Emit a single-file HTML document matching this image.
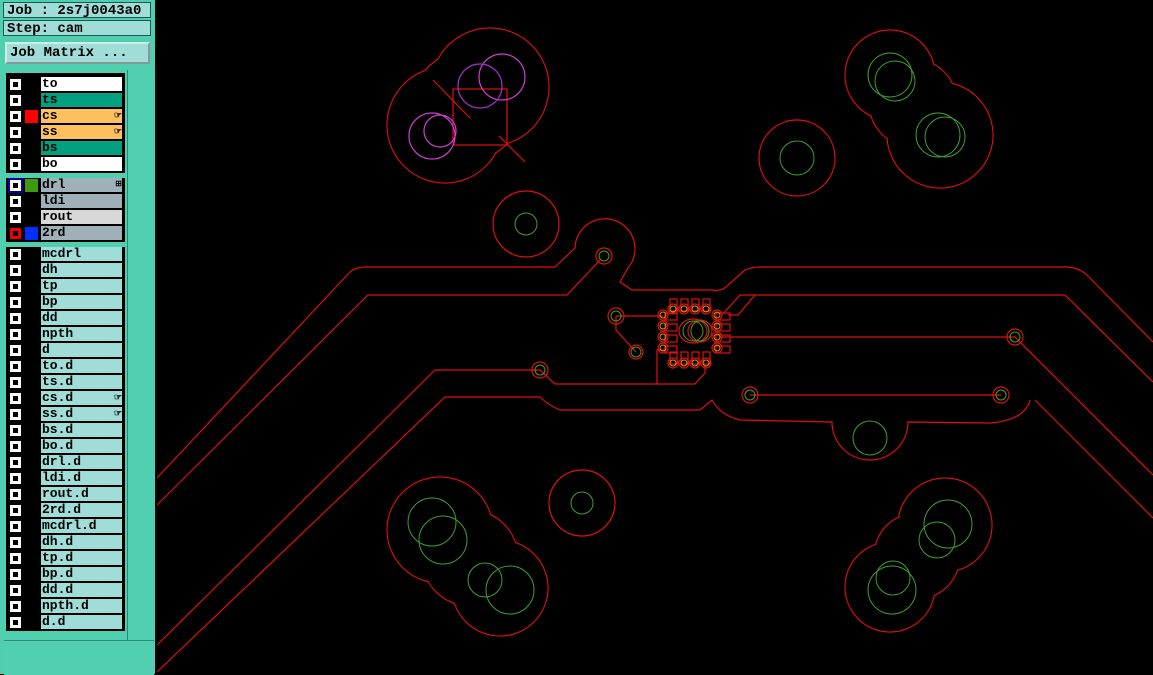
<!DOCTYPE html>
<html><head><meta charset="utf-8"><style>
body{margin:0;width:1153px;height:674px;overflow:hidden;background:#000;font-family:"Liberation Mono",monospace;}
#panel{position:absolute;left:0;top:0;width:155px;height:674px;background:#4fcfae;}
.hdr{position:absolute;left:3px;width:148px;height:16px;background:#a0dcd8;border:1px solid #1a5a50;font-size:14px;font-weight:bold;line-height:16px;padding-left:3px;box-sizing:border-box;color:#000}
.btn{position:absolute;left:5px;top:42px;width:145px;height:22px;background:#a0dcd8;border:2px outset #cfeeea;box-sizing:border-box;font-size:14px;font-weight:bold;line-height:18px;padding-left:3px}
#list{position:absolute;left:6px;top:73px;width:119px;height:558px;background:#000;}
#strip{position:absolute;left:127px;top:70px;width:26px;height:574px;background:#50d0b0;border-left:1px solid #2a8a78}
.row{position:absolute;left:0;width:119px;height:15px}
.cb{position:absolute;left:4px;top:2px;width:11px;height:11px;background:#fff;}
.cb:after{content:"";position:absolute;left:3px;top:3px;width:5px;height:5px;background:#000}
.sw{position:absolute;left:19px;top:1px;width:13px;height:13px}
.nm{position:absolute;left:35px;top:0;width:81px;height:14px;font-size:13px;font-weight:bold;line-height:14px;padding-left:1px;box-sizing:border-box}
.sep{position:absolute;left:0;width:119px;height:5px;background:#4fcfae}
</style></head><body>
<div id="panel">
<div class="hdr" style="top:2px">Job : 2s7j0043a0</div>
<div class="hdr" style="top:20px">Step: cam</div>
<div class="btn">Job Matrix ...</div>
<div id="strip"></div>
<div style="position:absolute;left:4px;top:640px;width:150px;height:34px;background:#50d0b0;border-top:1px solid #2a8a78"></div>
<div id="list">
<div class="row" style="top:4px"><div class="cb"></div><div class="nm" style="background:#fff">to</div></div>
<div class="row" style="top:20px"><div class="cb"></div><div class="nm" style="background:#00a080">ts</div></div>
<div class="row" style="top:36px"><div class="cb"></div><div class="sw" style="background:#f00"></div><div class="nm" style="background:#ffc060">cs<span style="float:right;font-size:9px">&#9758;</span></div></div>
<div class="row" style="top:52px"><div class="cb"></div><div class="nm" style="background:#ffc060">ss<span style="float:right;font-size:9px">&#9758;</span></div></div>
<div class="row" style="top:68px"><div class="cb"></div><div class="nm" style="background:#00a080">bs</div></div>
<div class="row" style="top:84px"><div class="cb"></div><div class="nm" style="background:#fff">bo</div></div>
<div class="sep" style="top:100px"></div>
<div class="row" style="top:105px"><div class="cb" style="background:#fff;outline:2px solid #00a"></div><div class="sw" style="background:#3a9a10"></div><div class="nm" style="background:#a0b0b8">drl<span style="float:right;font-size:8px">&#8862;</span></div></div>
<div class="row" style="top:121px"><div class="cb"></div><div class="nm" style="background:#a0b0b8">ldi</div></div>
<div class="row" style="top:137px"><div class="cb"></div><div class="nm" style="background:#d8d8d8">rout</div></div>
<div class="row" style="top:153px"><div class="cb" style="background:#e00"></div><div class="sw" style="background:#0030ff"></div><div class="nm" style="background:#a0b0b8">2rd</div></div>
<div class="sep" style="top:169px"></div>
</div>
</div>
<script>
var names=["mcdrl","dh","tp","bp","dd","npth","d","to.d","ts.d","cs.d","ss.d","bs.d","bo.d","drl.d","ldi.d","rout.d","2rd.d","mcdrl.d","dh.d","tp.d","bp.d","dd.d","npth.d","d.d"];
var L=document.getElementById('list'),h='';
names.forEach(function(n,i){var hand=(n=="cs.d"||n=="ss.d")?'<span style="float:right;font-size:9px">&#9758;</span>':'';
h+='<div class="row" style="top:'+(174+i*16)+'px"><div class="cb"></div><div class="nm" style="background:#a0dcd8">'+n+hand+'</div></div>';});
L.insertAdjacentHTML('beforeend',h);
</script>
<svg style="position:absolute;left:0;top:0" width="1153" height="674" viewBox="0 0 1153 674">
<g fill="none" stroke="#e01010" stroke-width="1.2">
<circle cx="490" cy="87" r="59"/><circle cx="445" cy="125" r="58"/><circle cx="467" cy="106" r="55"/>
<circle cx="890" cy="75" r="45"/><circle cx="940" cy="135" r="53"/><circle cx="913" cy="103" r="44"/>
<circle cx="440" cy="530" r="53"/><circle cx="500" cy="588" r="48"/><circle cx="470" cy="558" r="48"/>
<circle cx="945" cy="525" r="47"/><circle cx="890" cy="587" r="45"/><circle cx="917" cy="556" r="43"/>
</g>
<g fill="#000">
<circle cx="490" cy="87" r="58.4"/><circle cx="445" cy="125" r="57.4"/><circle cx="467" cy="106" r="54.4"/>
<circle cx="890" cy="75" r="44.4"/><circle cx="940" cy="135" r="52.4"/><circle cx="913" cy="103" r="43.4"/>
<circle cx="440" cy="530" r="52.4"/><circle cx="500" cy="588" r="47.4"/><circle cx="470" cy="558" r="47.4"/>
<circle cx="945" cy="525" r="46.4"/><circle cx="890" cy="587" r="44.4"/><circle cx="917" cy="556" r="42.4"/>
</g>
<g fill="none" stroke="#e01010" stroke-width="1.2">
<circle cx="797" cy="158" r="38"/><circle cx="526" cy="224" r="33"/><circle cx="582" cy="503" r="33"/>
<rect x="453" y="89" width="54" height="56"/>
<line x1="433" y1="80" x2="470" y2="118"/><line x1="499" y1="136" x2="525" y2="162"/>
<path d="M157,478 L350,272 Q356,267 365,267 L555,267 L575,248 A30,30 0 1 1 628,268 L620,282 L632,290 L712,290 Q722,292 728,285 L745,270 Q752,267 760,267 L1068,267 Q1080,268 1088,276 L1153,342"/>
<path d="M157,505 L368,295 L567,295 L600,260"/>
<path d="M723,314 L740,295 L1065,295 L1153,382"/>
<path d="M1015,337 L1153,475"/>
<path d="M1035,400 L1153,518"/>
<path d="M157,645 L435,370 L540,370"/>
<path d="M157,672 L445,397 L540,397 Q548,405 560,410 L700,410 L712,400 Q720,415 740,420 L832,422 A38,38 0 0 0 908,422 L990,423 Q1025,420 1030,400"/>
<path d="M540,370 L555,384 L657,384 L657,350 L665,350"/>
<path d="M657,384 L695,384 L705,373 L705,365"/>
<line x1="720" y1="337" x2="1015" y2="337"/>
<line x1="750" y1="395" x2="1001" y2="395"/>
<path d="M616,316 L663,316"/><path d="M616,316 L616,330 L636,352"/>
<path d="M728,315 L738,315 L755,295"/>
<circle cx="604" cy="256" r="8"/><circle cx="616" cy="316" r="8"/><circle cx="636" cy="352" r="7"/>
<circle cx="540" cy="370" r="8"/><circle cx="750" cy="395" r="8"/><circle cx="1001" cy="395" r="8"/><circle cx="1015" cy="337" r="8"/>
<rect x="670" y="299" width="7" height="12"/><rect x="681" y="299" width="7" height="12"/><rect x="692" y="299" width="7" height="12"/><rect x="703" y="299" width="7" height="12"/>
<rect x="670" y="352" width="7" height="12"/><rect x="681" y="352" width="7" height="12"/><rect x="692" y="352" width="7" height="12"/><rect x="703" y="352" width="7" height="12"/>
<rect x="665" y="313" width="12" height="7"/><rect x="665" y="324" width="12" height="7"/><rect x="665" y="335" width="12" height="7"/><rect x="665" y="346" width="12" height="7"/>
<rect x="716" y="313" width="14" height="7"/><rect x="716" y="324" width="14" height="7"/><rect x="716" y="335" width="14" height="7"/><rect x="716" y="346" width="14" height="7"/>
<circle cx="673" cy="309" r="5"/><circle cx="684" cy="309" r="5"/><circle cx="695" cy="309" r="5"/><circle cx="706" cy="309" r="5"/>
<circle cx="673" cy="363" r="5"/><circle cx="684" cy="363" r="5"/><circle cx="695" cy="363" r="5"/><circle cx="706" cy="363" r="5"/>
<circle cx="663" cy="315" r="5"/><circle cx="663" cy="326" r="5"/><circle cx="663" cy="337" r="5"/><circle cx="663" cy="348" r="5"/>
<circle cx="717" cy="315" r="5"/><circle cx="717" cy="326" r="5"/><circle cx="717" cy="337" r="5"/><circle cx="717" cy="348" r="5"/>
<ellipse cx="693" cy="331" rx="14" ry="12"/><ellipse cx="700" cy="331" rx="12" ry="11"/>
</g>
<g fill="none" stroke="#d040d0" stroke-width="1.2">
<circle cx="502" cy="77" r="23"/><circle cx="432" cy="136" r="23"/><circle cx="440" cy="131" r="16"/>
</g>
<circle cx="480" cy="86" r="22" fill="none" stroke="#a030c0" stroke-width="1.2"/>
<g fill="none" stroke="#40a030" stroke-width="1">
<circle cx="890" cy="75" r="22"/><circle cx="895" cy="81" r="20"/><circle cx="938" cy="135" r="22"/><circle cx="945" cy="137" r="20"/>
<circle cx="797" cy="158" r="17"/><circle cx="526" cy="224" r="11"/><circle cx="582" cy="503" r="11"/><circle cx="870" cy="438" r="17"/>
<circle cx="432" cy="522" r="24"/><circle cx="443" cy="540" r="24"/><circle cx="485" cy="580" r="17"/><circle cx="510" cy="590" r="24"/>
<circle cx="948" cy="524" r="24"/><circle cx="937" cy="540" r="18"/><circle cx="893" cy="578" r="17"/><circle cx="892" cy="590" r="24"/>
<circle cx="604" cy="256" r="5"/><circle cx="616" cy="316" r="5"/><circle cx="636" cy="352" r="5"/><circle cx="540" cy="370" r="5"/>
<circle cx="750" cy="395" r="5"/><circle cx="1001" cy="395" r="5"/><circle cx="1015" cy="337" r="5"/>
<ellipse cx="693" cy="331" rx="10" ry="10"/><ellipse cx="700" cy="331" rx="9" ry="10"/>
</g>
<g fill="none" stroke="#c8a020" stroke-width="1">
<circle cx="673" cy="309" r="3"/><circle cx="684" cy="309" r="3"/><circle cx="695" cy="309" r="3"/><circle cx="706" cy="309" r="3"/>
<circle cx="673" cy="363" r="3"/><circle cx="684" cy="363" r="3"/><circle cx="695" cy="363" r="3"/><circle cx="706" cy="363" r="3"/>
<circle cx="663" cy="315" r="3"/><circle cx="663" cy="326" r="3"/><circle cx="663" cy="337" r="3"/><circle cx="663" cy="348" r="3"/>
<circle cx="717" cy="315" r="3"/><circle cx="717" cy="326" r="3"/><circle cx="717" cy="337" r="3"/><circle cx="717" cy="348" r="3"/>
</g>
</svg>
</body></html>
